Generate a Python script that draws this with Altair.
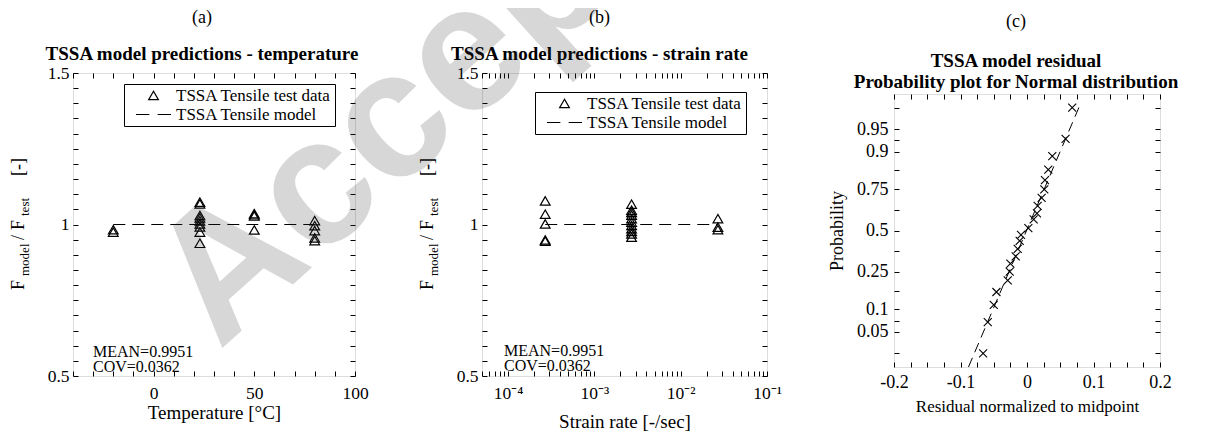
import altair as alt
import pandas as pd

FONT = "Liberation Serif"

# ---------------- data ----------------
SERIES = ["TSSA Tensile test data", "TSSA Tensile model"]

# (a) temperature
A_TEMP = [-20, -20, 23, 23, 23, 23, 23, 23, 23, 23, 23, 50, 50, 50, 50, 80, 80, 80, 80, 80]
A_RATIO = [0.983, 0.975, 1.074, 1.068, 1.030, 1.022, 1.012, 1.002, 0.992, 0.975, 0.938,
           1.036, 1.032, 1.028, 0.982, 1.013, 0.996, 0.980, 0.956, 0.947]
A_MODEL_X = [-20, 80]
A_MODEL_Y = [1.0, 1.0]

# (b) strain rate
B_RATE = [2.7e-4, 2.7e-4, 2.7e-4, 2.7e-4, 2.7e-4,
          2.7e-3, 2.7e-3, 2.7e-3, 2.7e-3, 2.7e-3, 2.7e-3, 2.7e-3, 2.7e-3, 2.7e-3, 2.7e-3, 2.7e-3,
          2.7e-2, 2.7e-2, 2.7e-2]
B_RATIO = [1.078, 1.034, 1.002, 0.949, 0.945,
           1.067, 1.047, 1.040, 1.031, 1.019, 1.008, 0.997, 0.986, 0.977, 0.969, 0.958,
           1.019, 0.991, 0.983]
B_MODEL_X = [2.7e-4, 2.7e-2]
B_MODEL_Y = [1.0, 1.0]

# (c) normal probability plot of residuals (y stored as normal quantile)
C_RESID = [0.068, 0.058, 0.038, 0.032, 0.027, 0.026, 0.022, 0.016, 0.015, 0.010, 0.002,
           -0.009, -0.011, -0.014, -0.017, -0.025, -0.026, -0.029, -0.046, -0.050, -0.059, -0.066]
C_Z = [2.00, 1.49, 1.21, 0.99, 0.82, 0.67, 0.53, 0.40, 0.28, 0.18, 0.04,
       -0.07, -0.17, -0.30, -0.42, -0.54, -0.67, -0.81, -1.00, -1.21, -1.49, -2.00]
C_LINE_X = [-0.088, 0.080]
C_LINE_Z = [-2.22, 2.05]
C_PROB_LABELS = ["0.05", "0.1", "0.25", "0.5", "0.75", "0.9", "0.95"]
C_PROB_Z = [-1.645, -1.282, -0.674, 0.0, 0.674, 1.282, 1.645]
C_MINOR_Z = [-1.99, -1.48, -0.99, -0.34, 0.34, 0.99, 1.48, 1.99]

ONE = pd.DataFrame({"k": [0]})
DASH_PATH = "M-3.6,0H-0.85M0.85,0H3.6"
CROSS_PATH = "M-1,-1L1,1M-1,1L1,-1"
TICK = 5


def ax(values, labels=True, label_expr="", title=None, orient=None,
       label_padding=4, title_padding=4, title_size=19, label_size=17.5):
    kw = dict(values=values, offset=-TICK, tickSize=TICK, tickColor="black", tickWidth=1,
              domain=False, grid=False, labelOverlap=False, labelFlush=False)
    if orient:
        kw["orient"] = orient
    if labels:
        kw.update(labels=True, labelExpr=label_expr, labelFont=FONT, labelFontSize=label_size,
                  labelColor="black", labelPadding=label_padding)
    else:
        kw.update(labels=False)
    if title:
        kw.update(title=title, titleFont=FONT, titleFontSize=title_size, titleFontWeight="normal",
                  titleColor="black", titlePadding=title_padding)
    else:
        kw["title"] = None
    return alt.Axis(**kw)


def legend(lx, ly):
    return alt.Legend(title=None, orient="none", legendX=lx, legendY=ly, direction="vertical",
                      strokeColor="black", fillColor="white", padding=3, cornerRadius=0,
                      labelFont=FONT, labelFontSize=17, labelColor="black", labelOffset=14,
                      labelLimit=400, symbolSize=95, symbolStrokeWidth=1.2,
                      symbolStrokeColor="black", symbolFillColor="transparent",
                      symbolOffset=18, rowPadding=1)


def ytitle_layers():
    segs = [("F", 217, 18, -49), ("model", 203, 13, -44), ("/", 167, 18, -49),
            ("F", 157, 18, -49), ("test", 143, 13, -44), ("[-]", 103, 18, -49)]
    out = []
    for txt, yy, fs, xx in segs:
        out.append(alt.Chart(ONE).mark_text(angle=270, align="left", baseline="alphabetic",
                                            font=FONT, fontSize=fs, color="black")
                   .encode(x=alt.value(xx), y=alt.value(yy), text=alt.value(txt)))
    return out


def stats_layer(x0, y0):
    return alt.Chart(ONE).mark_text(align="left", baseline="alphabetic", font=FONT, fontSize=16,
                                    lineHeight=15, color="black").encode(
        x=alt.value(x0), y=alt.value(y0), text=alt.value(["MEAN=0.9951", "COV=0.0362"]))


def title(letter, sub, dx, offset, pad, lh=19):
    return alt.TitleParams(text=letter, subtitle=sub, anchor="middle", frame="group", dx=dx,
                           offset=offset, font=FONT, fontSize=18, fontWeight="normal",
                           color="black", subtitleFont=FONT, subtitleFontSize=19,
                           subtitleFontWeight="bold", subtitleColor="black",
                           subtitlePadding=pad, subtitleLineHeight=lh)


RATIO_TICKS = [round(0.5 + 0.05 * i, 2) for i in range(21)]
RATIO_EXPR = "abs(datum.value*2 - round(datum.value*2)) < 0.001 ? toString(datum.value) : ''"

# ---------------- panel (a) ----------------
xs_a = alt.Scale(domain=[-40, 100], nice=False, zero=False)
ys = alt.Scale(domain=[0.5, 1.5], nice=False, zero=False)
TEMP_TICKS = list(range(-40, 101, 10))
TEMP_EXPR = "abs(datum.value % 50) < 0.001 ? toString(datum.value) : ''"

df_a = pd.DataFrame({"x": A_TEMP, "y": A_RATIO, "series": SERIES[0]})
df_am = pd.DataFrame({"x": A_MODEL_X, "y": A_MODEL_Y})

line_a = alt.Chart(df_am).mark_line(color="black", strokeDash=[12, 7], strokeWidth=1).encode(
    x=alt.X("x:Q", scale=xs_a, axis=ax(TEMP_TICKS, labels=False, orient="top")),
    y=alt.Y("y:Q", scale=ys, axis=ax(RATIO_TICKS, labels=False, orient="right")))

pts_a = alt.Chart(df_a).mark_point(filled=False, color="black", size=95, strokeWidth=1.2,
                                   opacity=1).encode(
    x=alt.X("x:Q", scale=xs_a, axis=ax(TEMP_TICKS, label_expr=TEMP_EXPR, title="Temperature [°C]",
                                       orient="bottom", label_padding=8, title_padding=2)),
    y=alt.Y("y:Q", scale=ys, axis=ax(RATIO_TICKS, label_expr=RATIO_EXPR, orient="left")),
    shape=alt.Shape("series:N", scale=alt.Scale(domain=SERIES, range=["triangle-up", DASH_PATH]),
                    legend=legend(51, 11)))

panel_a = alt.layer(line_a, pts_a, stats_layer(20, 284), *ytitle_layers()).resolve_axis(
    x="independent", y="independent").properties(
    width=282, height=303,
    title=title("(a)", "TSSA model predictions - temperature", -12, 0, 18))

# ---------------- panel (b) ----------------
xs_b = alt.Scale(type="log", domain=[5e-5, 0.1], nice=False)
RATE_TICKS = [m * 10.0 ** e for e in (-5, -4, -3, -2) for m in range(1, 10) if 5e-5 <= m * 10.0 ** e <= 0.1] + [0.1]
L = "(log(datum.value)/LN10)"
RATE_EXPR = (f"abs({L} - round({L})) < 0.001 ? (round({L}) == -4 ? '10⁻⁴' : round({L}) == -3 ? '10⁻³' : "
             f"round({L}) == -2 ? '10⁻²' : '10⁻¹') : ''")

df_b = pd.DataFrame({"x": B_RATE, "y": B_RATIO, "series": SERIES[0]})
df_bm = pd.DataFrame({"x": B_MODEL_X, "y": B_MODEL_Y})

line_b = alt.Chart(df_bm).mark_line(color="black", strokeDash=[12, 7], strokeWidth=1).encode(
    x=alt.X("x:Q", scale=xs_b, axis=ax(RATE_TICKS, labels=False, orient="top")),
    y=alt.Y("y:Q", scale=ys, axis=ax(RATIO_TICKS, labels=False, orient="right")))

pts_b = alt.Chart(df_b).mark_point(filled=False, color="black", size=95, strokeWidth=1.2,
                                   opacity=1).encode(
    x=alt.X("x:Q", scale=xs_b, axis=ax(RATE_TICKS, label_expr=RATE_EXPR, title="Strain rate [-/sec]",
                                       orient="bottom", label_padding=8, title_padding=11)),
    y=alt.Y("y:Q", scale=ys, axis=ax(RATIO_TICKS, label_expr=RATIO_EXPR, orient="left")),
    shape=alt.Shape("series:N", scale=alt.Scale(domain=SERIES, range=["triangle-up", DASH_PATH]),
                    legend=legend(53, 19)))

panel_b = alt.layer(line_b, pts_b, stats_layer(22, 283), *ytitle_layers()).resolve_axis(
    x="independent", y="independent").properties(
    width=285, height=303,
    title=title("(b)", "TSSA model predictions - strain rate", -25, 0, 18))

# ---------------- panel (c) ----------------
xs_c = alt.Scale(domain=[-0.2, 0.2], nice=False, zero=False)
ys_c = alt.Scale(domain=[-2.22, 2.22], nice=False, zero=False)
RES_TICKS = [round(-0.2 + 0.025 * i, 3) for i in range(17)]
RES_EXPR = "abs(datum.value*10 - round(datum.value*10)) < 0.001 ? toString(datum.value) : ''"
Z_TICKS = sorted(C_PROB_Z + C_MINOR_Z)
Z_EXPR = " : ".join(f"abs(datum.value - ({z})) < 0.001 ? '{lab}'"
                    for z, lab in zip(C_PROB_Z, C_PROB_LABELS)) + " : ''"

df_c = pd.DataFrame({"x": C_RESID, "z": C_Z})
df_cl = pd.DataFrame({"x": C_LINE_X, "z": C_LINE_Z})

line_c = alt.Chart(df_cl).mark_line(color="black", strokeDash=[10, 6], strokeWidth=1).encode(
    x=alt.X("x:Q", scale=xs_c, axis=ax(RES_TICKS, labels=False, orient="top")),
    y=alt.Y("z:Q", scale=ys_c, axis=ax(Z_TICKS, labels=False, orient="right")))

pts_c = alt.Chart(df_c).mark_point(shape=CROSS_PATH, filled=False, color="black", size=64,
                                   strokeWidth=1.1, opacity=1).encode(
    x=alt.X("x:Q", scale=xs_c, axis=ax(RES_TICKS, label_expr=RES_EXPR,
                                       title="Residual normalized to midpoint", orient="bottom",
                                       label_padding=6, title_padding=7, title_size=17,
                                       label_size=18)),
    y=alt.Y("z:Q", scale=ys_c, axis=ax(Z_TICKS, label_expr=Z_EXPR, title="Probability",
                                       orient="left", label_padding=6, title_padding=10,
                                       title_size=18, label_size=18)))

panel_c = alt.layer(line_c, pts_c).resolve_axis(x="independent", y="independent").properties(
    width=266, height=273,
    title=title("(c)", ["TSSA model residual", "Probability plot for Normal distribution"],
                -11, 2, 21, 21))

# spacer above (c); it also carries the "Accepted" watermark (placed over panels a/b,
# positioned relative to this spacer's origin)
watermark = alt.Chart(ONE).mark_text(align="left", baseline="alphabetic", angle=318,
                                     font="Liberation Sans", fontWeight="bold", fontSize=180,
                                     color="#333333", opacity=0.19).encode(
    x=alt.value(-675), y=alt.value(278), text=alt.value("Accepted"))

spacer = watermark.properties(width=266, height=21, view=alt.ViewBackground(stroke="transparent"))

group_c = alt.vconcat(spacer, panel_c, spacing=0, bounds="flush")

chart = alt.hconcat(panel_a, panel_b, group_c, spacing=127, bounds="flush").resolve_scale(
    shape="independent").resolve_legend(shape="independent").properties(
    padding={"top": -307, "left": 1, "right": 0, "bottom": 0}
).configure_view(stroke="black", strokeWidth=1).configure(background="white")

chart.save("out.html", embed_options={"renderer": "svg", "actions": False})
